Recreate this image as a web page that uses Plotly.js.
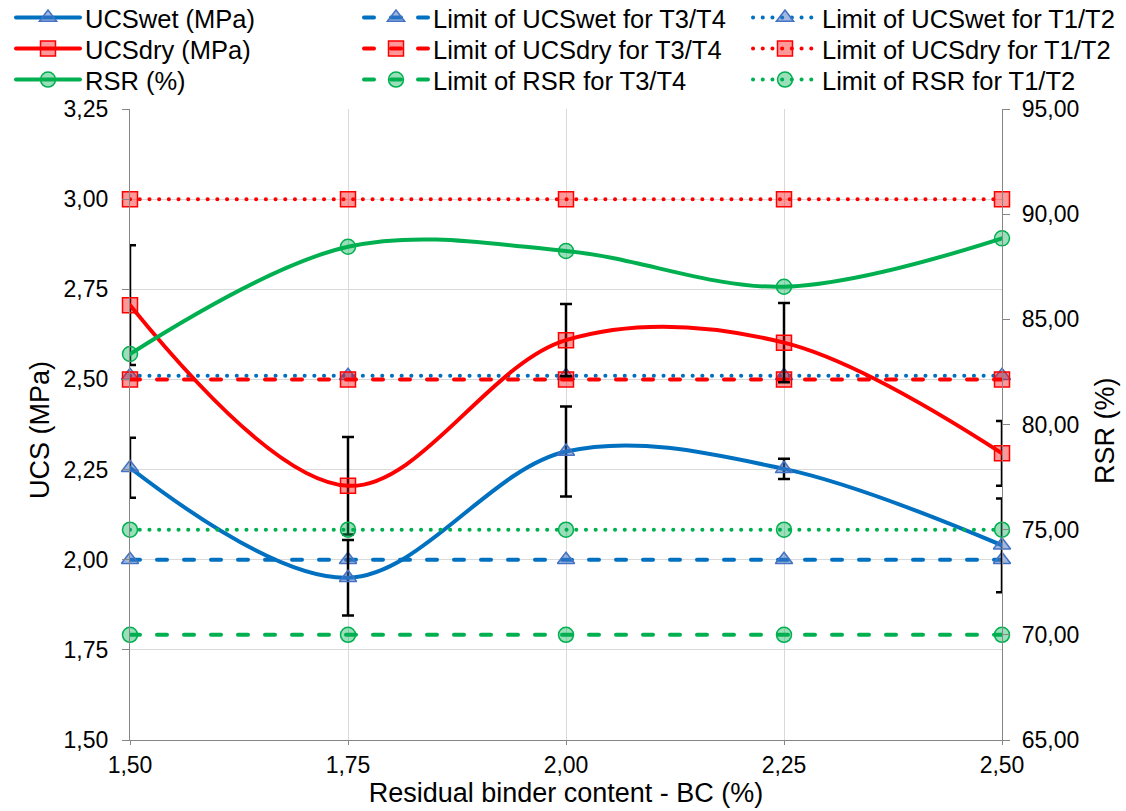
<!DOCTYPE html>
<html>
<head>
<meta charset="utf-8">
<script src="https://cdn.plot.ly/plotly-3.0.1.min.js"></script>
<style>
html,body{margin:0;padding:0;background:#fff;}
#chart{width:1126px;height:811px;}
.js-line{stroke-linecap:round;}
</style>
</head>
<body>
<div id="chart"></div>
<script>
// ---- data ----
var bc = [1.50, 1.75, 2.00, 2.25, 2.50];
var ucsWet = [2.255, 1.950, 2.300, 2.252, 2.040];
var ucsWetErr = [0.083, 0.105, 0.125, 0.028, 0.130];
var ucsDry = [2.706, 2.205, 2.609, 2.602, 2.295];
var ucsDryErr = [0.166, 0.135, 0.100, 0.110, 0.090];
var rsr = [83.35, 88.45, 88.25, 86.55, 88.85];
var limWetT34 = [2.00, 2.00, 2.00, 2.00, 2.00];
var limWetT12 = [2.51, 2.51, 2.51, 2.51, 2.51];
var limDryT34 = [2.50, 2.50, 2.50, 2.50, 2.50];
var limDryT12 = [3.00, 3.00, 3.00, 3.00, 3.00];
var limRsrT34 = [70.00, 70.00, 70.00, 70.00, 70.00];
var limRsrT12 = [75.00, 75.00, 75.00, 75.00, 75.00];
var names = [
  'UCSwet (MPa)', 'UCSdry (MPa)', 'RSR (%)',
  'Limit of UCSwet for T3/T4', 'Limit of UCSdry for T3/T4', 'Limit of RSR for T3/T4',
  'Limit of UCSwet for T1/T2', 'Limit of UCSdry for T1/T2', 'Limit of RSR for T1/T2'
];
var xTitle = 'Residual binder content - BC (%)';
var yTitle = 'UCS (MPa)';
var y2Title = 'RSR (%)';

// ---- styles ----
var BLUE = '#0070C0', RED = '#FF0000', GREEN = '#00B050';
var mWet = {symbol: 'triangle-up', size: 15, color: 'rgba(68,114,196,0.5)', line: {color: '#4472C4', width: 1.5}};
var mDry = {symbol: 'square', size: 15, color: 'rgba(255,0,0,0.4)', line: {color: RED, width: 1.5}};
var mRsr = {symbol: 'circle', size: 15, color: 'rgba(0,176,80,0.4)', line: {color: GREEN, width: 1.5}};
var DASH = '10px,17px';
var DOT = '0.1px,9.6px';
var LW = 4;

function tr(name, y, color, dash, marker, yaxis, legend, err, spline) {
  var t = {
    type: 'scatter', mode: 'lines+markers', x: bc, y: y, name: name,
    line: {color: color, width: LW, dash: dash, shape: spline ? 'spline' : 'linear', smoothing: 1},
    marker: marker, yaxis: yaxis, legend: legend, cliponaxis: false,
    hoverinfo: 'x+y+name'
  };
  if (err) {
    t.error_y = {type: 'data', array: err, visible: true, color: '#000', thickness: 2.5, width: 6};
  }
  return t;
}

var data = [
  tr(names[3], limWetT34, BLUE, DASH, mWet, 'y', 'legend4'),
  tr(names[6], limWetT12, BLUE, DOT, mWet, 'y', 'legend7'),
  tr(names[4], limDryT34, RED, DASH, mDry, 'y', 'legend5'),
  tr(names[7], limDryT12, RED, DOT, mDry, 'y', 'legend8'),
  tr(names[5], limRsrT34, GREEN, DASH, mRsr, 'y2', 'legend6'),
  tr(names[8], limRsrT12, GREEN, DOT, mRsr, 'y2', 'legend9'),
  tr(names[0], ucsWet, BLUE, 'solid', mWet, 'y', 'legend', ucsWetErr, true),
  tr(names[1], ucsDry, RED, 'solid', mDry, 'y', 'legend2', ucsDryErr, true),
  tr(names[2], rsr, GREEN, 'solid', mRsr, 'y2', 'legend3', null, true)
];

var FAM = 'Liberation Sans, Arial, sans-serif';
var TICKFONT = {family: FAM, size: 23, color: '#000'};
var TITLEFONT = {family: FAM, size: 27, color: '#000'};
var LEGFONT = {family: FAM, size: 25.5, color: '#000'};
var GRID = '#D9D9D9', AXIS = '#868686';

// legend placement (pixels): column left edges and row centers
var colLeft = [11, 359, 748];
var rowMid = [18, 49, 80];
function leg(col, row) {
  return {
    x: colLeft[col] / 1126, y: 1 - rowMid[row] / 811,
    xref: 'container', yref: 'container', xanchor: 'left', yanchor: 'middle',
    orientation: 'v', font: LEGFONT, bgcolor: 'rgba(0,0,0,0)', itemwidth: 64,
    borderwidth: 0
  };
}

var layout = {
  width: 1126, height: 811,
  margin: {l: 130, r: 124, t: 109, b: 71, pad: 0, autoexpand: false},
  paper_bgcolor: '#fff', plot_bgcolor: '#fff',
  separators: ', ',
  font: TICKFONT,
  showlegend: true,
  legend: leg(0, 0), legend2: leg(0, 1), legend3: leg(0, 2),
  legend4: leg(1, 0), legend5: leg(1, 1), legend6: leg(1, 2),
  legend7: leg(2, 0), legend8: leg(2, 1), legend9: leg(2, 2),
  xaxis: {
    range: [1.5, 2.5], dtick: 0.25, tick0: 1.5, tickformat: '.2f',
    showgrid: true, gridcolor: GRID, gridwidth: 1.3,
    showline: true, linecolor: AXIS, linewidth: 1.3,
    ticks: 'outside', ticklen: 4, tickcolor: AXIS, tickwidth: 1.3,
    zeroline: false, tickfont: TICKFONT, ticklabelstandoff: 0,
    title: {text: xTitle, font: TITLEFONT, standoff: 2}
  },
  yaxis: {
    range: [1.5, 3.25], dtick: 0.25, tick0: 1.5, tickformat: '.2f',
    showgrid: true, gridcolor: GRID, gridwidth: 1.3,
    showline: true, linecolor: AXIS, linewidth: 1.3,
    ticks: 'outside', ticklen: 7, tickcolor: AXIS, tickwidth: 1.3,
    zeroline: false, tickfont: TICKFONT, ticklabelstandoff: 9
  },
  yaxis2: {
    overlaying: 'y', side: 'right',
    range: [65, 95], dtick: 5, tick0: 65, tickformat: '.2f',
    showgrid: false,
    showline: true, linecolor: AXIS, linewidth: 1.3,
    ticks: 'outside', ticklen: 7, tickcolor: AXIS, tickwidth: 1.3,
    zeroline: false, tickfont: TICKFONT, ticklabelstandoff: 7
  },
  annotations: [
    {text: yTitle, xref: 'paper', yref: 'paper', x: (40 - 130) / 872, y: (740 - 430) / 631,
     xanchor: 'center', yanchor: 'middle', textangle: -90, showarrow: false, font: TITLEFONT},
    {text: y2Title, xref: 'paper', yref: 'paper', x: (1105 - 130) / 872, y: (740 - 431) / 631,
     xanchor: 'center', yanchor: 'middle', textangle: -90, showarrow: false, font: TITLEFONT}
  ]
};

Plotly.newPlot('chart', data, layout, {displayModeBar: false, responsive: false});
</script>
</body>
</html>
